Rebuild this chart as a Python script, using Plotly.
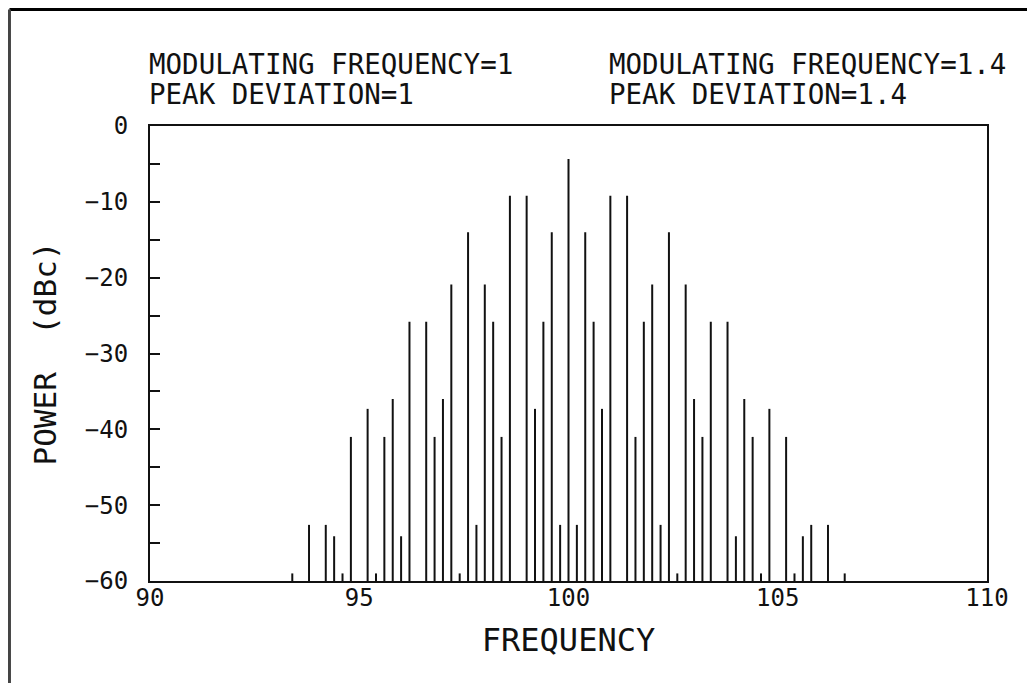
import plotly.graph_objects as go

# Spectral line frequencies and their power levels (dBc)
freqs = [93.4, 93.8, 94.2, 94.4, 94.6, 94.8, 95.2, 95.4, 95.6, 95.8,
         96.0, 96.2, 96.6, 96.8, 97.0, 97.2, 97.4, 97.6, 97.8, 98.0,
         98.2, 98.4, 98.6, 99.0, 99.2, 99.4, 99.6, 99.8, 100.0,
         100.2, 100.4, 100.6, 100.8, 101.0, 101.4, 101.6, 101.8, 102.0, 102.2,
         102.4, 102.6, 102.8, 103.0, 103.2, 103.4, 103.8, 104.0, 104.2, 104.4,
         104.6, 104.8, 105.2, 105.4, 105.6, 105.8, 106.2, 106.6]
power = [-59, -52.6, -52.6, -54.1, -59, -41, -37.3, -59, -41, -36,
         -54.1, -25.8, -25.8, -41, -36, -20.9, -59, -14, -52.6, -20.9,
         -25.8, -41, -9.2, -9.2, -37.3, -25.8, -14, -52.6, -4.35,
         -52.6, -14, -25.8, -37.3, -9.2, -9.2, -41, -25.8, -20.9, -52.6,
         -14, -59, -20.9, -36, -41, -25.8, -25.8, -54.1, -36, -41,
         -59, -37.3, -41, -59, -54.1, -52.6, -52.6, -59]

floor_db = -60
x_ticks = [90, 95, 100, 105, 110]
y_ticks = [0, -10, -20, -30, -40, -50, -60]

labels_left = ["MODULATING FREQUENCY=1", "PEAK DEVIATION=1"]
labels_right = ["MODULATING FREQUENCY=1.4", "PEAK DEVIATION=1.4"]

xs, ys = [], []
for f, p in zip(freqs, power):
    xs += [f, f, None]
    ys += [floor_db, p, None]

FONT = "DejaVu Sans Mono"
INK = "#111111"

fig = go.Figure()
fig.add_trace(go.Scatter(x=xs, y=ys, mode="lines",
                         line=dict(color=INK, width=2), showlegend=False,
                         hoverinfo="skip"))

fig.update_layout(
    width=1035, height=683,
    margin=dict(l=142, r=56, t=118, b=110),
    paper_bgcolor="white", plot_bgcolor="white",
    font=dict(family=FONT, color=INK, size=24),
    xaxis=dict(range=[90, 110], tickvals=x_ticks, ticks="", showgrid=False,
               zeroline=False, showline=True, linecolor=INK, linewidth=2,
               mirror=True, tickfont=dict(size=24, family=FONT),
               ticklabelstandoff=-6,
               title=dict(text="FREQUENCY", font=dict(size=32, family=FONT),
                          standoff=18)),
    yaxis=dict(range=[-60, 0], tickvals=y_ticks, ticks="inside", ticklen=10,
               tickwidth=2, tickcolor=INK,
               minor=dict(dtick=5, ticks="inside", ticklen=10, tickwidth=2,
                          tickcolor=INK, showgrid=False),
               showgrid=False, zeroline=False, showline=True, linecolor=INK,
               linewidth=2, mirror=True, tickfont=dict(size=24, family=FONT),
               ticklabelstandoff=15,
               title=dict(text="POWER\u00a0 (dBc)", font=dict(size=31, family=FONT),
                          standoff=19)),
)

# Header text
for i, t in enumerate(labels_left):
    fig.add_annotation(x=-0.003, y=[1.136, 1.070][i], xref="paper", yref="paper",
                       text=t, showarrow=False, xanchor="left", yanchor="middle",
                       font=dict(size=27.5, family=FONT, color=INK))
for i, t in enumerate(labels_right):
    fig.add_annotation(x=0.546, y=[1.136, 1.070][i], xref="paper", yref="paper",
                       text=t, showarrow=False, xanchor="left", yanchor="middle",
                       font=dict(size=27.5, family=FONT, color=INK))

# Outer page frame (top and left edges visible)
fig.add_shape(type="line", xref="paper", yref="paper", x0=-0.1679, x1=1.1,
              y0=1.256, y1=1.256, line=dict(color="black", width=3))
fig.add_shape(type="line", xref="paper", yref="paper", x0=-0.1679, x1=-0.1679,
              y0=1.256, y1=-0.3, line=dict(color="#444444", width=3))

fig.write_html("out.html")
